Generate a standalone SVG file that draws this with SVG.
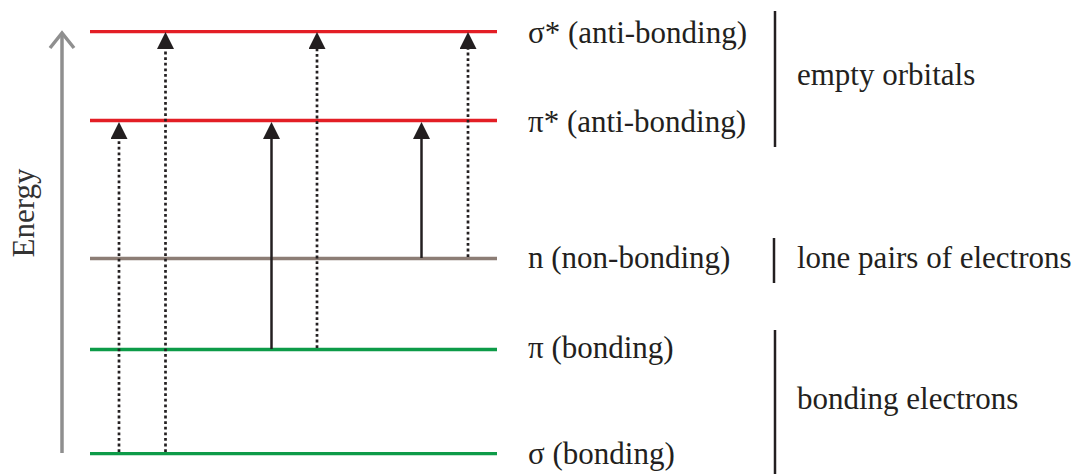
<svg xmlns="http://www.w3.org/2000/svg" width="1082" height="474" viewBox="0 0 1082 474">
<defs>
<marker id="tri" markerUnits="userSpaceOnUse" markerWidth="17" markerHeight="17" viewBox="0 0 17 17" refX="8.5" refY="17" orient="0">
<path d="M0,17 L8.5,0 L17,17 Z" fill="#231f20"/>
</marker>
</defs>
<rect width="1082" height="474" fill="#ffffff"/>
<g id="energy-axis">
<line x1="62" y1="453" x2="62" y2="33" stroke="#8f8f8f" stroke-width="3.5"/>
<polyline points="50,48 62,33 74,48" stroke="#8f8f8f" stroke-width="3.5" fill="none"/>
<text style="font-family:'Liberation Serif'" font-size="31" fill="#333333" transform="translate(34,213) rotate(-90)" text-anchor="middle">Energy</text>
</g>
<g id="level-sigma-star">
<line x1="90" y1="31.7" x2="497" y2="31.7" stroke="#e31e25" stroke-width="3.3"/>
<text style="font-family:'Liberation Serif'" font-size="31" fill="#231f20" x="528" y="43">σ* (anti-bonding)</text>
</g>
<g id="level-pi-star">
<line x1="90" y1="120.5" x2="497" y2="120.5" stroke="#e31e25" stroke-width="3.3"/>
<text style="font-family:'Liberation Serif'" font-size="31" fill="#231f20" x="528" y="132">π* (anti-bonding)</text>
</g>
<g id="level-n">
<line x1="90" y1="258.5" x2="497" y2="258.5" stroke="#8c7d75" stroke-width="3.3"/>
<text style="font-family:'Liberation Serif'" font-size="31" fill="#231f20" x="528" y="268">n (non-bonding)</text>
</g>
<g id="level-pi">
<line x1="90" y1="349.5" x2="497" y2="349.5" stroke="#0d9b48" stroke-width="3.3"/>
<text style="font-family:'Liberation Serif'" font-size="31" fill="#231f20" x="528" y="358">π (bonding)</text>
</g>
<g id="level-sigma">
<line x1="90" y1="453.7" x2="497" y2="453.7" stroke="#0d9b48" stroke-width="3.3"/>
<text style="font-family:'Liberation Serif'" font-size="31" fill="#231f20" x="528" y="464">σ (bonding)</text>
</g>
<g id="group-empty">
<line x1="775" y1="11" x2="775" y2="147" stroke="#231f20" stroke-width="2.5"/>
<text style="font-family:'Liberation Serif'" font-size="31" fill="#231f20" x="797" y="85">empty orbitals</text>
</g>
<g id="group-lone">
<line x1="774" y1="238" x2="774" y2="283" stroke="#231f20" stroke-width="2.5"/>
<text style="font-family:'Liberation Serif'" font-size="31" fill="#231f20" x="797" y="268">lone pairs of electrons</text>
</g>
<g id="group-bonding">
<line x1="775" y1="330" x2="775" y2="474" stroke="#231f20" stroke-width="2.5"/>
<text style="font-family:'Liberation Serif'" font-size="31" fill="#231f20" x="797" y="409">bonding electrons</text>
</g>
<g id="connectors" stroke="#231f20" fill="none" marker-end="url(#tri)">
<g stroke-width="2.7" stroke-dasharray="2.8 2.8">
<line x1="119" y1="452" x2="119" y2="139"/>
<line x1="165.5" y1="452" x2="165.5" y2="49"/>
<line x1="317" y1="348" x2="317" y2="49"/>
<line x1="468" y1="257" x2="468" y2="49"/>
</g>
<g stroke-width="2.5">
<line x1="271.5" y1="349" x2="271.5" y2="139"/>
<line x1="421.5" y1="258" x2="421.5" y2="139"/>
</g>
</g>
</svg>
